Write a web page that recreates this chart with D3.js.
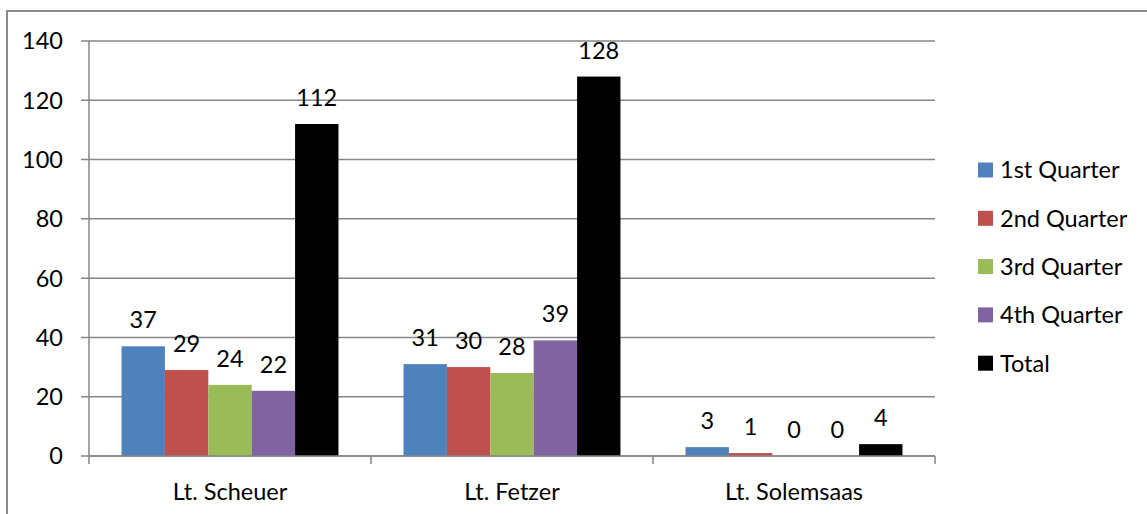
<!DOCTYPE html>
<html>
<head>
<meta charset="utf-8">
<script src="https://cdn.jsdelivr.net/npm/d3@7"></script>
<style>
  body { margin: 0; background: #fff; }
  text { font-family: Lato, "Noto Sans", sans-serif; fill: #000; }
</style>
</head>
<body>
<svg id="chart" width="1147" height="514"></svg>
<script>
// data
var categories = ["Lt. Scheuer", "Lt. Fetzer", "Lt. Solemsaas"];
var seriesNames = ["1st Quarter", "2nd Quarter", "3rd Quarter", "4th Quarter", "Total"];
var q1 = [37, 31, 3];
var q2 = [29, 30, 1];
var q3 = [24, 28, 0];
var q4 = [22, 39, 0];
var total = [112, 128, 4];
var yTicks = [0, 20, 40, 60, 80, 100, 120, 140];
var colours = ["#4F81BD", "#C0504D", "#9BBB59", "#8064A2", "#000000"];

var seriesValues = [q1, q2, q3, q4, total];

var svg = d3.select("#chart");
var margin = {left: 89, right: 212, top: 41, bottom: 58};
var plotWidth = 1147 - margin.left - margin.right;
var plotHeight = 514 - margin.top - margin.bottom;
var gridColour = "#868686";
var fontSize = "23.5px";

// chart frame (cropped at right and bottom in the original)
svg.append("rect")
    .attr("x", 7).attr("y", 11)
    .attr("width", 1160).attr("height", 520)
    .attr("fill", "none")
    .attr("stroke", "#8c8c8c")
    .attr("stroke-width", 2);

var plot = svg.append("g")
    .attr("transform", "translate(" + margin.left + "," + margin.top + ")");

var y = d3.scaleLinear().domain([0, 140]).range([plotHeight, 0]);
var x0 = d3.scaleBand().domain(categories).range([0, plotWidth]).padding(0);
var x1 = d3.scaleBand().domain(seriesNames).range([0, x0.bandwidth()])
    .paddingInner(0).paddingOuter(0.75);

// gridlines + left ticks
plot.append("g")
    .selectAll("line")
    .data(yTicks)
    .enter().append("line")
    .attr("x1", -8).attr("x2", plotWidth)
    .attr("y1", d => y(d)).attr("y2", d => y(d))
    .attr("stroke", gridColour)
    .attr("stroke-width", 1.5);

plot.append("g")
    .selectAll("text")
    .data(yTicks)
    .enter().append("text")
    .attr("x", -26)
    .attr("y", d => y(d))
    .attr("dy", "0.36em")
    .attr("text-anchor", "end")
    .style("font-size", fontSize)
    .text(d => d);

// y axis line
plot.append("line")
    .attr("x1", 0).attr("x2", 0)
    .attr("y1", 0).attr("y2", plotHeight)
    .attr("stroke", gridColour).attr("stroke-width", 1.5);

// bars
var groups = plot.selectAll(".cat")
    .data(categories)
    .enter().append("g")
    .attr("class", "cat")
    .attr("transform", d => "translate(" + x0(d) + ",0)");

groups.each(function(cat, ci) {
    var g = d3.select(this);
    var rows = seriesNames.map((s, si) => ({series: s, value: seriesValues[si][ci], colour: colours[si]}));

    g.selectAll("rect")
        .data(rows)
        .enter().append("rect")
        .attr("x", d => x1(d.series))
        .attr("width", x1.bandwidth())
        .attr("y", d => y(d.value))
        .attr("height", d => plotHeight - y(d.value))
        .attr("fill", d => d.colour);

    g.selectAll(".lbl")
        .data(rows)
        .enter().append("text")
        .attr("class", "lbl")
        .attr("x", d => x1(d.series) + x1.bandwidth() / 2)
        .attr("y", d => y(d.value) - 18)
        .attr("text-anchor", "middle")
        .style("font-size", fontSize)
        .text(d => d.value);
});

// x axis line + ticks
plot.append("line")
    .attr("x1", 0).attr("x2", plotWidth)
    .attr("y1", plotHeight).attr("y2", plotHeight)
    .attr("stroke", gridColour).attr("stroke-width", 1.5);

var tickXs = categories.map(c => x0(c)).concat([plotWidth]);
plot.append("g")
    .selectAll("line")
    .data(tickXs)
    .enter().append("line")
    .attr("x1", d => d).attr("x2", d => d)
    .attr("y1", plotHeight).attr("y2", plotHeight + 8)
    .attr("stroke", gridColour).attr("stroke-width", 1.5);

plot.append("g")
    .selectAll("text")
    .data(categories)
    .enter().append("text")
    .attr("x", d => x0(d) + x0.bandwidth() / 2)
    .attr("y", plotHeight + 36)
    .attr("dy", "0.36em")
    .attr("text-anchor", "middle")
    .style("font-size", fontSize)
    .text(d => d);

// legend
var legend = svg.append("g")
    .attr("transform", "translate(978,170)");

var legItems = legend.selectAll("g")
    .data(seriesNames)
    .enter().append("g")
    .attr("transform", (d, i) => "translate(0," + (i * 48.3) + ")");

legItems.append("rect")
    .attr("x", 0).attr("y", -7.5)
    .attr("width", 15).attr("height", 15)
    .attr("fill", (d, i) => colours[i]);

legItems.append("text")
    .attr("x", 22)
    .attr("y", 0)
    .attr("dy", "0.36em")
    .style("font-size", fontSize)
    .text(d => d);
</script>
</body>
</html>
